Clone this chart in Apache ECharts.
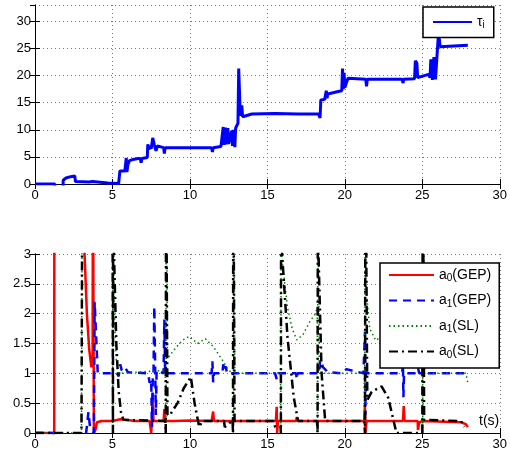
<!DOCTYPE html>
<html>
<head>
<meta charset="utf-8">
<script src="https://cdn.jsdelivr.net/npm/echarts@6/dist/echarts.min.js"></script>
<style>
  html, body { margin: 0; padding: 0; background: #fff; }
  #chart { width: 510px; height: 454px; }
</style>
</head>
<body>
<div id="chart"></div>
<script>
// x ticks shared by both panels
const xTicks = [0, 5, 10, 15, 20, 25, 30];

// top panel: tau_i over time [t, value]
const tau = [
  [0, 0], [1.28, 0], [1.29, -3], [1.8, -3], [1.82, 0.7], [2.0, 1.1], [2.3, 1.35], [2.57, 1.5],
  [2.61, 0.45], [3.5, 0.35], [3.7, 0.45], [3.75, 0.3], [4.7, 0.2], [5.4, 0.1], [5.46, 0],
  [5.48, 2.4], [5.8, 2.4], [5.87, 2.2], [5.89, 4.8], [5.93, 2.2], [6.0, 3.6], [6.1, 4.3],
  [6.2, 4.1], [6.3, 4.5], [6.5, 4.6], [6.64, 4.7], [6.8, 4.7], [6.85, 3.9], [6.9, 4.7],
  [7.25, 4.9], [7.28, 7.3], [7.35, 6.4], [7.45, 7.0], [7.5, 6.5], [7.6, 8.5], [7.7, 7.2],
  [7.81, 6.1], [7.9, 7.0], [8.0, 6.7], [8.3, 6.7], [8.35, 5.6], [8.4, 6.7], [11.4, 6.7],
  [11.45, 5.9], [11.5, 6.7], [12.0, 6.9], [12.1, 7.2], [12.15, 10.5], [12.2, 7.2], [12.3, 10.4],
  [12.35, 7.3], [12.45, 10.3], [12.5, 7.4], [12.6, 8.7], [12.7, 9.8], [12.75, 7.0], [12.8, 10.0],
  [12.9, 6.8], [12.95, 10.3], [13.0, 10.5], [13.1, 11.2], [13.15, 21.3], [13.25, 12.6],
  [13.35, 14.5], [13.4, 12.4], [14.0, 12.9], [15.5, 13.0], [17.0, 12.9], [18.3, 12.9],
  [18.4, 12.2], [18.45, 15.5], [18.7, 15.6], [18.8, 17.2], [18.85, 15.8], [18.9, 16.6],
  [19.5, 17.0], [19.8, 17.2], [19.85, 21.3], [19.9, 17.5], [19.95, 20.5], [20.0, 17.8],
  [20.2, 19.5], [21.35, 19.3], [21.4, 18.0], [21.45, 19.3], [23.7, 19.3], [23.76, 18.6],
  [23.8, 19.3], [24.5, 19.4], [24.55, 22.7], [24.65, 22.3], [24.7, 19.6], [25.4, 20.2],
  [25.5, 19.6], [25.55, 23.0], [25.65, 19.2], [25.75, 23.4], [25.85, 19.3], [25.95, 23.7],
  [26.0, 23.5], [26.05, 28.0], [26.15, 25.3], [27.94, 25.6]
];

// bottom panel series [t, value]; values above 3 run off the top
const a0Gep = [
  [0, 0], [1.24, 0], [1.25, 5], [3.15, 5], [3.2, 3.0], [3.35, 2.0], [3.5, 1.4], [3.64, 1.1],
  [3.72, 1.3], [3.74, 5], [3.78, 5], [3.8, 0.0], [3.9, 0.05], [4.0, 0.18], [4.3, 0.2],
  [5.0, 0.2], [5.5, 0.23], [6.5, 0.2], [7.4, 0.2], [7.5, 0.0], [7.55, 0.2], [7.6, 0.67],
  [7.65, 0.2], [8.3, 0.2], [8.35, 0.4], [8.4, 0.2], [9, 0.2], [10, 0.21], [11.4, 0.2],
  [11.5, 0.36], [11.55, 0.2], [12.8, 0.2], [15.55, 0.2], [15.6, 0.44], [15.63, 0.0],
  [15.68, 0.2], [16.85, 0.2], [16.9, 0.27], [16.95, 0.2], [21.25, 0.2], [21.3, 0.48],
  [21.33, 0.0], [21.4, 0.2], [23.75, 0.2], [23.8, 0.45], [23.85, 0.2], [24.7, 0.2],
  [24.72, 0.05], [24.8, 0.18], [25.0, 0.2], [27.5, 0.18], [27.8, 0.15], [27.94, 0.1]
];
const a1Gep = [
  [0, 0], [1.2, 0], [1.25, -1], [3.25, -1], [3.3, 0.0], [3.45, 0.35], [3.55, 0.1], [3.8, 0.0],
  [3.85, 2.2], [3.95, 1.6], [4.05, 1.0], [5.3, 1.0], [5.4, 0.95], [5.5, 1.15], [5.6, 1.05],
  [5.8, 1.1], [6.0, 1.02], [7.3, 1.0], [7.4, 0.84], [7.5, 0.9], [7.55, 0.1], [7.6, 0.9],
  [7.65, 1.0], [7.7, 2.12], [7.8, 0.3], [7.85, 1.05], [8.3, 1.0], [8.35, 1.9], [8.4, 1.0],
  [11.4, 1.0], [11.45, 1.2], [11.5, 0.85], [11.55, 1.0], [12.1, 1.0], [12.15, 1.15],
  [12.25, 1.05], [12.3, 1.12], [12.4, 1.0], [15.5, 1.0], [15.6, 0.9], [15.7, 1.0],
  [16.85, 1.0], [16.9, 0.9], [16.95, 1.0], [18.35, 1.0], [18.4, 1.22], [18.6, 1.1],
  [18.9, 1.02], [19.8, 1.0], [20.1, 1.07], [21.2, 1.0], [21.3, 1.7], [21.32, 0.3],
  [21.36, 1.0], [23.7, 1.0], [23.75, 1.17], [23.78, 0.6], [23.82, 1.0], [24.65, 1.0],
  [24.73, 1.08], [24.8, 1.0], [27.8, 1.0], [27.94, 0.95]
];
const a1Sl = [
  [0, 0], [3.0, 0], [3.05, 5], [5.0, 5], [5.02, 0], [5.05, 3.2], [5.15, 1.8], [5.25, 1.2],
  [5.4, 1.0], [8.4, 1.05], [8.45, 0], [8.47, 5], [8.5, 5], [8.55, 1.25], [9.0, 1.4],
  [9.5, 1.55], [9.95, 1.62], [10.5, 1.5], [11.0, 1.58], [11.5, 1.45], [12.1, 1.22],
  [12.5, 1.05], [12.75, 1.0], [12.8, 0], [12.82, 5], [12.85, 5], [12.9, 1.0], [15.85, 1.0],
  [15.87, 0], [15.89, 5], [15.95, 2.9], [16.3, 2.1], [16.6, 1.75], [16.9, 1.56], [17.3, 1.65],
  [17.7, 1.85], [18.1, 2.0], [18.22, 2.1], [18.24, 0], [18.26, 5], [18.3, 5], [18.35, 1.0],
  [21.25, 1.0], [21.28, 0], [21.3, 5], [21.35, 2.5], [21.6, 1.75], [22.0, 1.55], [22.8, 1.7],
  [23.5, 1.9], [24.5, 2.2], [25.0, 2.4], [25.03, 0], [25.05, 5], [25.1, 5], [25.15, 1.0],
  [27.8, 1.0], [27.9, 0.9], [27.94, 0.82]
];
const a0Sl = [
  [0, 0], [3.0, 0], [3.06, 5], [5.0, 5], [5.03, 0], [5.05, 5], [5.1, 3.0], [5.25, 1.5],
  [5.4, 0.7], [5.55, 0.35], [5.7, 0.22], [8.4, 0.2], [8.44, 0], [8.46, 5], [8.5, 5],
  [8.55, 0.3], [8.7, 0.3], [9.2, 0.5], [9.6, 0.75], [10.06, 0.94], [10.3, 0.5], [10.6, 0.1],
  [10.8, 0.2], [12.2, 0.2], [12.25, 0.1], [12.5, 0.15], [12.75, 0.22], [12.78, 0], [12.8, 5],
  [12.84, 5], [12.88, 0.2], [15.4, 0.2], [15.5, 0.1], [15.85, 0.1], [15.87, 0], [15.89, 5],
  [15.95, 3.0], [16.3, 1.6], [16.7, 0.6], [16.98, 0.2], [18.2, 0.2], [18.24, 0], [18.26, 5],
  [18.3, 3.0], [18.5, 1.0], [18.73, 0.2], [21.25, 0.2], [21.3, 0], [21.33, 5], [21.38, 5],
  [21.45, 0.55], [21.73, 0.69], [22.37, 0.78], [22.8, 0.59], [23.33, 0.0], [25.0, 0],
  [25.03, 5], [25.07, 5], [25.12, 0.22], [27.5, 0.2], [27.7, 0.1]
];

const font = 'Liberation Sans, Arial, sans-serif';
const chart = echarts.init(document.getElementById('chart'));

const gridLine = { show: true, lineStyle: { color: '#777', width: 1, type: [1, 3] } };
const tickIn = { show: true, inside: true, length: 5, lineStyle: { color: '#000' } };
const axisLineBlack = { show: true, lineStyle: { color: '#000', width: 1 } };
const label = { color: '#000', fontSize: 13, fontFamily: font };

function xMain(gridIndex) {
  return {
    type: 'value', gridIndex, min: xTicks[0], max: xTicks[xTicks.length - 1], interval: 5,
    axisLine: axisLineBlack, axisTick: tickIn, splitLine: gridLine,
    axisLabel: Object.assign({ margin: 5 }, label)
  };
}
function xTop(gridIndex) {
  return {
    type: 'value', gridIndex, position: 'top', min: 0, max: 30, interval: 5,
    axisLine: axisLineBlack, axisTick: tickIn, splitLine: { show: false }, axisLabel: { show: false }
  };
}
function yMain(gridIndex, max, interval, showMax) {
  return {
    type: 'value', gridIndex, min: 0, max, interval,
    axisLine: axisLineBlack, axisTick: tickIn, splitLine: gridLine,
    axisLabel: Object.assign({ margin: 4, showMaxLabel: showMax }, label)
  };
}
function yRight(gridIndex, max, interval) {
  return {
    type: 'value', gridIndex, position: 'right', min: 0, max, interval,
    axisLine: axisLineBlack, axisTick: tickIn, splitLine: { show: false }, axisLabel: { show: false }
  };
}

function lineSeries(name, data, xi, yi, color, width, type) {
  return {
    name, type: 'line', data, xAxisIndex: xi, yAxisIndex: yi,
    showSymbol: false, symbol: 'none', animation: false, clip: true,
    lineStyle: { color, width, type }, itemStyle: { color }
  };
}

const richText = {
  n: { fontSize: 14, fontFamily: font, color: '#000' },
  s: { fontSize: 10, fontFamily: font, color: '#000', padding: [7, 0, 0, 0] }
};
const names = {
  'tau': '{n|τ}{s|i}',
  'a0(GEP)': '{n|a}{s|0}{n|(GEP)}',
  'a1(GEP)': '{n|a}{s|1}{n|(GEP)}',
  'a1(SL)': '{n|a}{s|1}{n|(SL)}',
  'a0(SL)': '{n|a}{s|0}{n|(SL)}'
};
// hide the marker dot in legend icons, keep only the line
const noDot = { color: 'rgba(0,0,0,0)', borderColor: 'rgba(0,0,0,0)', borderWidth: 0 };

chart.setOption({
  backgroundColor: '#fff',
  animation: false,
  grid: [
    { left: 35, top: 5, width: 467, height: 179 },
    { left: 35, top: 254, width: 467, height: 179 }
  ],
  xAxis: [xMain(0), xTop(0), xMain(1), xTop(1)],
  yAxis: [yMain(0, 33, 5, false), yRight(0, 33, 5), yMain(1, 3, 0.5, true), yRight(1, 3, 0.5)],
  legend: [
    {
      data: ['tau'], left: 423, top: 7, orient: 'vertical',
      padding: [8, 9, 7, 9], itemWidth: 39, itemHeight: 14, itemGap: 10,
      backgroundColor: '#fff', borderColor: '#000', borderWidth: 1.5, itemStyle: noDot,
      formatter: n => names[n], textStyle: { rich: richText }
    },
    {
      data: ['a0(GEP)', 'a1(GEP)', 'a1(SL)', 'a0(SL)'], left: 380, top: 263, orient: 'vertical',
      padding: [5, 8, 8, 8], itemWidth: 45, itemHeight: 14, itemGap: 10,
      backgroundColor: '#fff', borderColor: '#000', borderWidth: 1.5, itemStyle: noDot,
      formatter: n => names[n], textStyle: { rich: richText }
    }
  ],
  graphic: [
    { type: 'text', left: 479, top: 414, z: 10, style: { text: 't(s)', fontSize: 14, fontFamily: font, fill: '#000' } }
  ],
  series: [
    lineSeries('tau', tau, 0, 0, '#0000ff', 3, 'solid'),
    lineSeries('a0(GEP)', a0Gep, 2, 2, '#ff0000', 2.5, 'solid'),
    lineSeries('a1(GEP)', a1Gep, 2, 2, '#0000ff', 2.5, [8, 6]),
    lineSeries('a1(SL)', a1Sl, 2, 2, '#008000', 1.5, [1.5, 3]),
    lineSeries('a0(SL)', a0Sl, 2, 2, '#000000', 2.5, [9, 4, 2, 4])
  ]
});
</script>
</body>
</html>
